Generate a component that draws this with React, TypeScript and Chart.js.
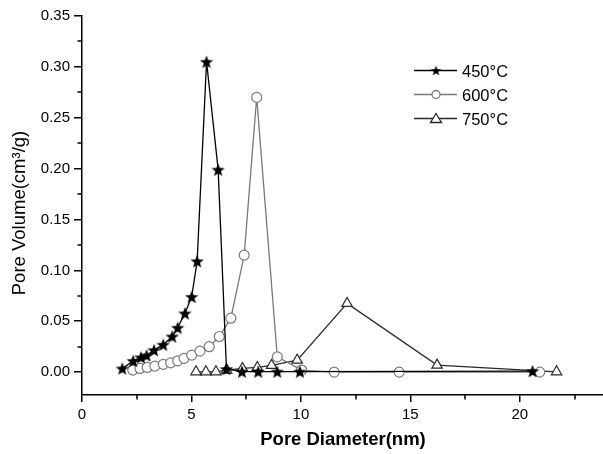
import React, { useEffect, useRef } from 'react';
import { Chart, registerables } from 'chart.js';
Chart.register(...registerables);

const seriesLabels = ['450°C', '600°C', '750°C'];
const xTitle = 'Pore Diameter(nm)';
const yTitle = 'Pore Volume(cm³/g)';

const x450 = [1.84, 2.34, 2.69, 2.95, 3.29, 3.71, 4.12, 4.37, 4.70, 5.01, 5.26, 5.69, 6.22, 6.60, 7.31, 8.05, 8.92, 9.95, 20.58];
const y450 = [0.0036, 0.011, 0.0145, 0.0164, 0.0216, 0.027, 0.035, 0.0436, 0.0577, 0.074, 0.109, 0.305, 0.199, 0.003, 0.0005, 0.0005, 0.0005, 0.0005, 0.001];

const x600 = [2.32, 2.65, 2.98, 3.33, 3.71, 4.05, 4.37, 4.66, 5.01, 5.39, 5.81, 6.27, 6.80, 7.41, 7.98, 8.92, 10.03, 11.52, 14.49, 20.91];
const y600 = [0.002, 0.0036, 0.0046, 0.0059, 0.0076, 0.0091, 0.0111, 0.0135, 0.0167, 0.0206, 0.025, 0.035, 0.053, 0.115, 0.27, 0.015, 0.002, 0.0, 0.0, 0.0];

const x750 = [5.21, 5.66, 6.12, 6.61, 7.33, 8.01, 8.66, 9.83, 12.11, 16.22, 21.68];
const y750 = [0.0003, 0.0003, 0.0003, 0.002, 0.0036, 0.0046, 0.0066, 0.0118, 0.0675, 0.0069, 0.0003];

const xTicks = [0, 5, 10, 15, 20];
const xMinorTicks = [2.5, 7.5, 12.5, 17.5, 22.5];
const yTicks = [0, 0.05, 0.1, 0.15, 0.2, 0.25, 0.3, 0.35];
const yMinorTicks = [0.025, 0.075, 0.125, 0.175, 0.225, 0.275, 0.325];

const FONT = '"Liberation Sans", Arial, Helvetica, sans-serif';

function makeStar(size: number, color: string): HTMLCanvasElement {
  const c = document.createElement('canvas');
  c.width = size;
  c.height = size;
  const ctx = c.getContext('2d')!;
  const cx = size / 2;
  const cy = size / 2 + size * 0.05;
  const R = size / 2;
  const r = R * 0.42;
  ctx.beginPath();
  for (let i = 0; i < 10; i++) {
    const a = -Math.PI / 2 + (i * Math.PI) / 5;
    const rad = i % 2 === 0 ? R : r;
    const px = cx + rad * Math.cos(a);
    const py = cy + rad * Math.sin(a);
    if (i === 0) ctx.moveTo(px, py);
    else ctx.lineTo(px, py);
  }
  ctx.closePath();
  ctx.fillStyle = color;
  ctx.fill();
  return c;
}

const colors = ['#000000', '#7a7a7a', '#2a2a2a'];

export default function App() {
  const ref = useRef<HTMLCanvasElement>(null);
  useEffect(() => {
    const star = makeStar(14, '#000');
    const starSmall = makeStar(11, '#000');

    const minorTicksPlugin = {
      id: 'minorTicks',
      afterDraw(chart: any) {
        const ctx = chart.ctx;
        const xs = chart.scales.x;
        const ys = chart.scales.y;
        ctx.save();
        ctx.strokeStyle = '#000';
        ctx.lineWidth = 1.5;
        ctx.beginPath();
        xMinorTicks.forEach((v) => {
          const px = Math.round(xs.getPixelForValue(v));
          ctx.moveTo(px, xs.top);
          ctx.lineTo(px, xs.top + 4.5);
        });
        yMinorTicks.forEach((v) => {
          const py = Math.round(ys.getPixelForValue(v));
          ctx.moveTo(ys.right, py);
          ctx.lineTo(ys.right - 4.5, py);
        });
        ctx.stroke();
        ctx.restore();
      },
    };

    const titlesPlugin = {
      id: 'axisTitles',
      afterDraw(chart: any) {
        const ctx = chart.ctx;
        ctx.save();
        ctx.fillStyle = '#000';
        ctx.textAlign = 'center';
        ctx.textBaseline = 'middle';
        ctx.font = 'bold 18.5px ' + FONT;
        ctx.fillText(xTitle, 343, 440);
        ctx.translate(20, 213);
        ctx.rotate(-Math.PI / 2);
        ctx.font = '18.5px ' + FONT;
        ctx.fillText(yTitle, 0, 0);
        ctx.restore();
      },
    };

    const legendPlugin = {
      id: 'customLegend',
      afterDraw(chart: any) {
        const ctx = chart.ctx;
        const rows = [70.5, 94.5, 118.5];
        ctx.save();
        rows.forEach((y, i) => {
          ctx.strokeStyle = colors[i];
          ctx.lineWidth = 1.3;
          ctx.beginPath();
          ctx.moveTo(414, y);
          ctx.lineTo(457, y);
          ctx.stroke();
          const mx = 436;
          if (i === 0) {
            ctx.drawImage(starSmall, mx - 5.5, y - 5.5);
          } else if (i === 1) {
            ctx.beginPath();
            ctx.arc(mx, y, 4, 0, Math.PI * 2);
            ctx.fillStyle = '#fff';
            ctx.fill();
            ctx.stroke();
          } else {
            ctx.beginPath();
            ctx.moveTo(mx, y - 5);
            ctx.lineTo(mx + 5.5, y + 4);
            ctx.lineTo(mx - 5.5, y + 4);
            ctx.closePath();
            ctx.fillStyle = '#fff';
            ctx.fill();
            ctx.stroke();
          }
          ctx.fillStyle = '#000';
          ctx.font = '16.5px ' + FONT;
          ctx.textBaseline = 'alphabetic';
          ctx.textAlign = 'left';
          ctx.fillText(seriesLabels[i], 462, y + 6);
        });
        ctx.restore();
      },
    };

    const toPts = (xs: number[], ys: number[]) => xs.map((x, i) => ({ x, y: ys[i] }));

    const chart = new Chart(ref.current!, {
      type: 'line',
      data: {
        datasets: [
          {
            label: seriesLabels[0],
            data: toPts(x450, y450),
            borderColor: colors[0],
            borderWidth: 1.3,
            pointStyle: star as any,
            pointRadius: 7,
            pointBackgroundColor: '#000',
            pointBorderColor: '#000',
            tension: 0,
            clip: false as any,
          },
          {
            label: seriesLabels[1],
            data: toPts(x600, y600),
            borderColor: colors[1],
            borderWidth: 1.3,
            pointStyle: 'circle',
            pointRadius: 5,
            pointBorderWidth: 1.2,
            pointBackgroundColor: '#fff',
            pointBorderColor: colors[1],
            tension: 0,
            clip: false as any,
          },
          {
            label: seriesLabels[2],
            data: toPts(x750, y750),
            borderColor: colors[2],
            borderWidth: 1.3,
            pointStyle: 'triangle',
            pointRadius: 6,
            pointBorderWidth: 1.2,
            pointBackgroundColor: '#fff',
            pointBorderColor: colors[2],
            tension: 0,
            clip: false as any,
          },
        ],
      },
      options: {
        animation: false,
        responsive: false,
        layout: { autoPadding: false, padding: { top: 16, right: 0, left: 0, bottom: 0 } },
        plugins: { legend: { display: false }, tooltip: { enabled: false } },
        scales: {
          x: {
            type: 'linear',
            min: 0,
            max: 23.8,
            afterBuildTicks: (s: any) => {
              s.ticks = xTicks.map((v) => ({ value: v }));
            },
            afterFit: (s: any) => {
              s.height = 59;
            },
            grid: { drawOnChartArea: false, drawTicks: true, tickLength: 7, color: '#000', lineWidth: 1.5 },
            border: { color: '#000', width: 1.5 },
            ticks: {
              font: { family: FONT, size: 15 },
              color: '#000',
              padding: 4,
              maxRotation: 0,
              autoSkip: false,
              callback: (v: any) => String(v),
            },
          },
          y: {
            type: 'linear',
            min: -0.0225,
            max: 0.35,
            afterBuildTicks: (s: any) => {
              s.ticks = yTicks.map((v) => ({ value: v }));
            },
            afterFit: (s: any) => {
              s.width = 82;
            },
            grid: { drawOnChartArea: false, drawTicks: true, tickLength: 8, color: '#000', lineWidth: 1.5 },
            border: { color: '#000', width: 1.5 },
            ticks: {
              font: { family: FONT, size: 15 },
              color: '#000',
              padding: 4,
              autoSkip: false,
              callback: (v: any) => Number(v).toFixed(2),
            },
          },
        },
      },
      plugins: [minorTicksPlugin, titlesPlugin, legendPlugin],
    } as any);
    return () => chart.destroy();
  }, []);

  return (
    <div style={{ position: 'fixed', left: 0, top: 0, width: 603, height: 454, background: '#fff' }}>
      <canvas ref={ref} width={603} height={454} style={{ display: 'block' }} />
    </div>
  );
}
